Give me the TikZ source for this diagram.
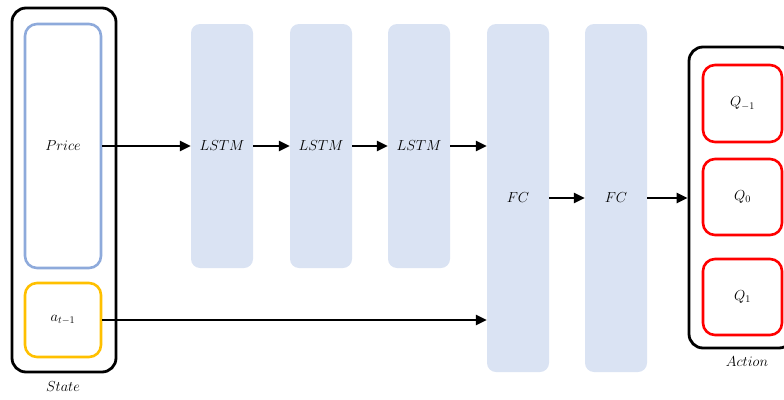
\documentclass[tikz,border=0pt]{standalone}
\usepackage{fix-cm}
\usetikzlibrary{arrows.meta}
\definecolor{layerfill}{HTML}{DAE3F3}
\definecolor{priceblue}{HTML}{8EAADB}
\definecolor{ayellow}{HTML}{FFC000}
\definecolor{qred}{HTML}{FF0000}
\newcommand{\lblsize}{\fontsize{14.5}{17}\selectfont}
\begin{document}
\begin{tikzpicture}[x=1pt,y=-1pt,
  lbl/.style={font=\lblsize},
  frame/.style={draw=black,line width=2.8pt,rounded corners=14pt},
  layer/.style={fill=layerfill,draw=none,rounded corners=9pt,minimum width=62pt,font=\lblsize},
  inbox/.style={line width=2.6pt,rounded corners=12pt,minimum width=76pt,font=\lblsize},
  arr/.style={line width=2.8pt,-{Triangle[length=11pt,width=10pt]}}]
\clip (0,0) rectangle (784,399);
\useasboundingbox (0,0) rectangle (784,399);
% State frame
\node[frame,minimum width=104pt,minimum height=364pt,inner sep=0pt] (state) at (64,190) {};
\node[lbl,anchor=center] (statelbl) at (63,387) {$State$};
\node[inbox,draw=priceblue,minimum height=244pt,inner sep=0pt] (price) at (63,146) {$Price$};
\node[inbox,draw=ayellow,minimum height=74pt,inner sep=0pt] (a) at (63,320) {$a_{t-1}$};
% layers
\node[layer,minimum height=244pt,inner sep=0pt] (l1) at (222,146) {$LSTM$};
\node[layer,minimum height=244pt,inner sep=0pt] (l2) at (321,146) {$LSTM$};
\node[layer,minimum height=244pt,inner sep=0pt] (l3) at (419,146) {$LSTM$};
\node[layer,minimum height=348pt,inner sep=0pt] (f1) at (518,198) {$FC$};
\node[layer,minimum height=348pt,inner sep=0pt] (f2) at (616,198) {$FC$};
% Action frame
\node[frame,minimum width=104pt,minimum height=301pt,inner sep=0pt] (action) at (741,197.5) {};
\node[lbl] (actlbl) at (747,362) {$Action$};
\node[inbox,draw=qred,minimum width=79pt,minimum height=77pt,inner sep=0pt] (q1) at (742.5,103.5) {$Q_{-1}$};
\node[inbox,draw=qred,minimum width=79pt,minimum height=76pt,inner sep=0pt] (q2) at (742.5,197) {$Q_{0}$};
\node[inbox,draw=qred,minimum width=79pt,minimum height=76pt,inner sep=0pt] (q3) at (742.5,297) {$Q_{1}$};
% arrows
\draw[arr] (price.east) -- (l1.west);
\draw[arr] (l1.east) -- (l2.west);
\draw[arr] (l2.east) -- (l3.west);
\draw[arr] (l3.east) -- (f1.west |- l3.east);
\draw[arr] (f1.east) -- (f2.west);
\draw[arr] (f2.east) -- (action.west |- f2.east);
\draw[arr] (a.east) -- (f1.west |- a.east);
\end{tikzpicture}
\end{document}
